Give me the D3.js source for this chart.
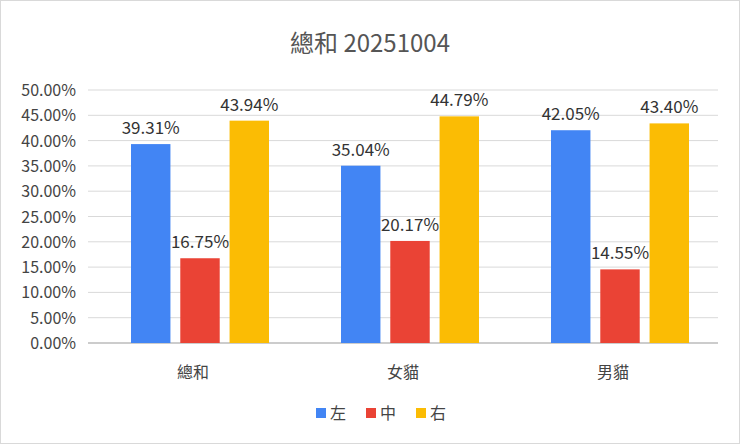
<!DOCTYPE html>
<html>
<head>
<meta charset="utf-8">
<script src="https://cdn.jsdelivr.net/npm/d3@7"></script>
<style>
  body { margin: 0; background: #fff; }
  text { font-family: "Noto Sans CJK TC", "Noto Sans", sans-serif; }
</style>
</head>
<body>
<script>
  var categories = ["總和", "女貓", "男貓"];
  var seriesNames = ["左", "中", "右"];
  var seriesColors = ["#4285f4", "#ea4335", "#fbbc04"];
  var left = [0.3931, 0.3504, 0.4205];
  var middle = [0.1675, 0.2017, 0.1455];
  var right = [0.4394, 0.4479, 0.4340];
  var yTicks = [0, 0.05, 0.1, 0.15, 0.2, 0.25, 0.3, 0.35, 0.4, 0.45, 0.5];

  var series = [left, middle, right];
  var W = 740, H = 444;
  var svg = d3.select("body").append("svg").attr("width", W).attr("height", H);

  svg.append("rect").attr("x", 0.5).attr("y", 0.5).attr("width", W - 1).attr("height", H - 1)
    .attr("fill", "#fff").attr("stroke", "#d9d9d9");

  svg.append("text").attr("x", 370).attr("y", 52).attr("text-anchor", "middle")
    .style("font-size", "24px").attr("fill", "#555").text("總和 20251004");

  var x = d3.scaleBand().domain(categories).range([88, 718]);
  var xi = d3.scaleBand().domain(d3.range(3)).range([43, 181]).paddingInner(0.2);
  var y = d3.scaleLinear().domain([0, 0.5]).range([343, 90]);

  // grid
  svg.selectAll(".grid").data(yTicks).enter().append("line")
    .attr("x1", 88).attr("x2", 718)
    .attr("y1", function(d) { return y(d); }).attr("y2", function(d) { return y(d); })
    .attr("stroke", function(d) { return d === 0 ? "#999" : "#d9d9d9"; });

  svg.selectAll(".ylab").data(yTicks).enter().append("text")
    .attr("x", 76).attr("y", function(d) { return y(d) + 6; })
    .attr("text-anchor", "end").style("font-size", "16px").attr("fill", "#444")
    .text(function(d) { return (d * 100).toFixed(2) + "%"; });

  svg.selectAll(".xlab").data(categories).enter().append("text")
    .attr("x", function(d) { return x(d) + x.bandwidth() / 2; }).attr("y", 378)
    .attr("text-anchor", "middle").style("font-size", "16px").attr("fill", "#444")
    .text(function(d) { return d; });

  series.forEach(function(vals, s) {
    var g = svg.append("g");
    g.selectAll("rect").data(vals).enter().append("rect")
      .attr("x", function(d, i) { return x(categories[i]) + xi(s); })
      .attr("width", xi.bandwidth())
      .attr("y", function(d) { return y(d); })
      .attr("height", function(d) { return y(0) - y(d); })
      .attr("fill", seriesColors[s]);
    g.selectAll("text").data(vals).enter().append("text")
      .attr("x", function(d, i) { return x(categories[i]) + xi(s) + xi.bandwidth() / 2; })
      .attr("y", function(d) { return y(d) - 10; })
      .attr("text-anchor", "middle").style("font-size", "17px").attr("fill", "#333")
      .text(function(d) { return (d * 100).toFixed(2) + "%"; });
  });

  // legend
  var lx = [316, 366, 416];
  seriesNames.forEach(function(n, i) {
    svg.append("rect").attr("x", lx[i]).attr("y", 408).attr("width", 10).attr("height", 10)
      .attr("fill", seriesColors[i]);
    svg.append("text").attr("x", lx[i] + 14).attr("y", 419).style("font-size", "16px")
      .attr("fill", "#444").text(n);
  });
</script>
</body>
</html>
